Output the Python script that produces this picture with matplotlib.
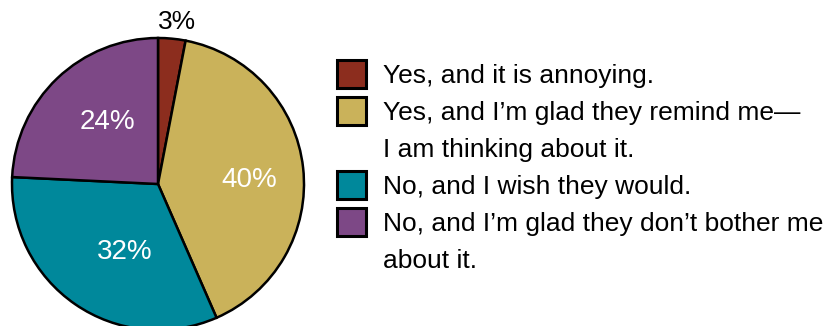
import matplotlib.pyplot as plt
import numpy as np
from matplotlib.patches import Rectangle

plt.rcParams['font.family'] = ['Liberation Sans', 'DejaVu Sans']

# survey answers (percent)
labels = ["Yes, and it is annoying.",
          "Yes, and I\u2019m glad they remind me\u2014\nI am thinking about it.",
          "No, and I wish they would.",
          "No, and I\u2019m glad they don\u2019t bother me\nabout it."]
values = [3, 40, 32, 24]
colors = ["#8C2D1E", "#CAB25A", "#00889B", "#7D4886"]
text_colors = ["black", "white", "white", "white"]
# label placement: (radius fraction, angle offset from wedge middle in deg)
label_dist = [1.117, 0.625, 0.52, 0.55]
label_shift = [-1.2, -3.9, 8.6, -4.6]

W, H = 835, 326
fig = plt.figure(figsize=(W / 100, H / 100), dpi=100)
ax = fig.add_axes([0, 0, 1, 1])

cx, cy, r = 158, H - 184, 146
wedges, _ = ax.pie(values, colors=colors, startangle=90, counterclock=False,
                   center=(cx, cy), radius=r,
                   wedgeprops=dict(edgecolor="black", linewidth=1.8))

for w, v, tc, d, s in zip(wedges, values, text_colors, label_dist, label_shift):
    mid = np.deg2rad((w.theta1 + w.theta2) / 2 + s)
    ax.text(cx + d * r * np.cos(mid), cy + d * r * np.sin(mid), f"{v}%",
            ha="center", va="center", color=tc,
            fontsize=19 if tc == "black" else 20)

# legend drawn by hand so the box sits on the first line of each label
line_step = 37
baseline = H - 83
for lab, c in zip(labels, colors):
    ax.add_patch(Rectangle((337, baseline + 9 - 14), 29, 28, facecolor=c,
                           edgecolor="black", linewidth=2.2))
    for line in lab.split("\n"):
        ax.text(383, baseline, line, ha="left", va="baseline", fontsize=19)
        baseline -= line_step

ax.set_xlim(0, W)
ax.set_ylim(0, H)
ax.set_aspect("equal")
ax.axis("off")

fig.savefig("out.png", dpi=100)
